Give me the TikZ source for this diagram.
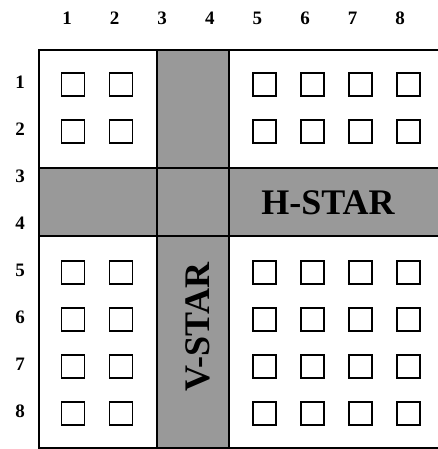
\documentclass[tikz,border=0pt]{standalone}
\usepackage{fontspec}
\setmainfont{Liberation Serif}
\begin{document}
\begin{tikzpicture}[x=1pt,y=-1pt,
  cell/.style={draw, line width=1.6pt, minimum size=23pt, inner sep=0pt},
  lbl/.style={font=\bfseries\fontsize{19}{21}\selectfont, inner sep=0pt},
  star/.style={font=\bfseries\fontsize{36}{39}\selectfont, inner sep=0pt}]
\useasboundingbox (0,0) rectangle (438,449);
% bands
\fill[black!40] (39,168) rectangle (438,236);
\fill[black!40] (157,50) rectangle (229,448);
\draw[line width=1.4pt] (39,168) -- (438,168) (39,236) -- (438,236);
\draw[line width=1.4pt] (157,50) -- (157,448) (229,50) -- (229,448);
% outer frame (top, left, bottom)
\draw[line width=2pt] (438,50) -- (39,50) -- (39,448) -- (438,448);
% column labels
\foreach \k in {1,...,8}{
  \node[lbl] (c\k) at ({67+47.6*(\k-1)},18) {\k};
}
% row labels
\foreach \r in {1,...,8}{
  \node[lbl] (r\r) at (20,{82+47*(\r-1)}) {\r};
}
% squares
\foreach \r in {1,2,5,6,7,8}{
  \foreach \k in {1,2,5,6,7,8}{
    \node[cell] (s\r\k) at ({73+47.9*(\k-1)},{84.5+47*(\r-1)}) {};
  }
}
\node[star] (hstar) at (328,203) {H-STAR};
\node[star, rotate=90] (vstar) at (198,327) {V-STAR};
\end{tikzpicture}
\end{document}
